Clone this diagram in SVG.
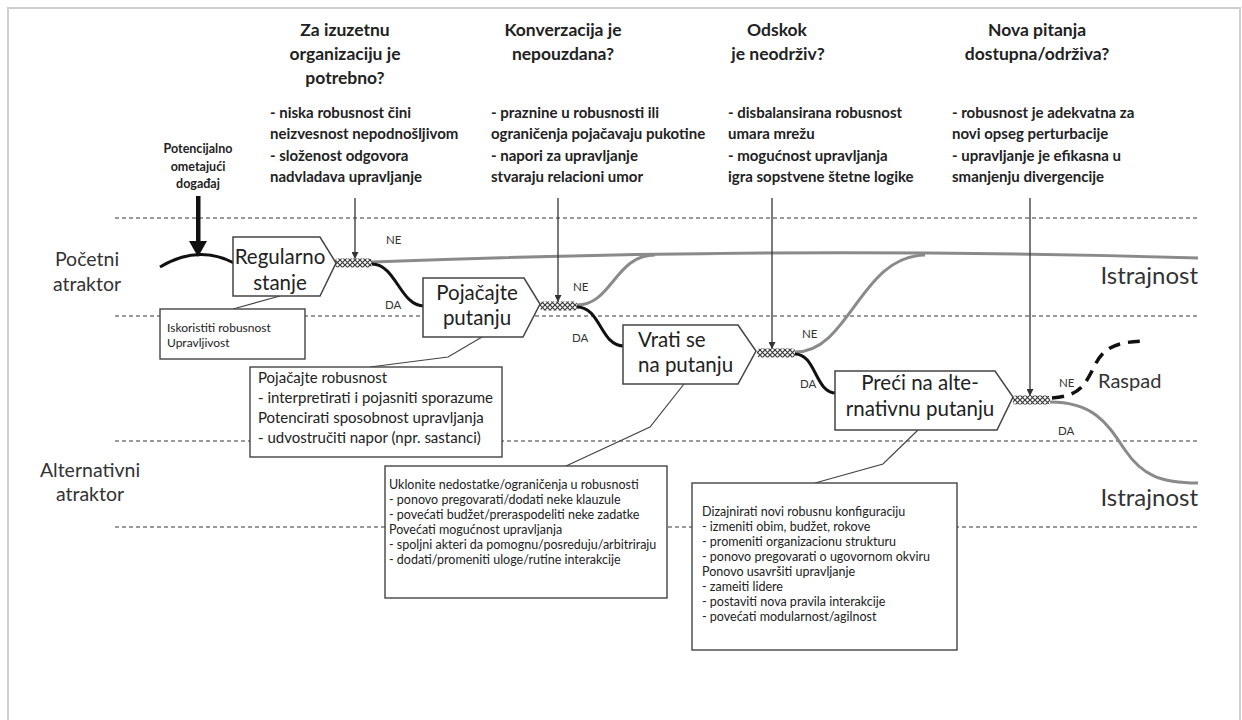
<svg xmlns="http://www.w3.org/2000/svg" width="1242" height="720" viewBox="0 0 1242 720">
  <defs>
    <style>
      text { font-family: Lato, "Liberation Sans", sans-serif; fill: #222; }
      .h { font-size: 17.5px; font-weight: bold; text-anchor: middle; }
      .b { font-size: 15px; font-weight: bold; }
      .ev { font-size: 12.5px; font-weight: bold; text-anchor: middle; }
      .side { font-size: 19.5px; text-anchor: middle; fill: #333; }
      .out { font-size: 24px; text-anchor: end; fill: #333; }
      .nt { font-size: 20.5px; fill: #222; }
      .ctr { text-anchor: middle; }
      .yn { font-size: 11.5px; fill: #333; }
      .c1 { font-size: 12px; }
      .c2 { font-size: 15px; }
      .c3 { font-size: 12.5px; }
      .band { stroke: #7a7a7a; stroke-width: 1.4; stroke-dasharray: 4 3; fill: none; }
      .node { fill: #fff; stroke: #444; stroke-width: 1.5; }
      .box { fill: #fff; stroke: #444; stroke-width: 1.4; }
      .lead { fill: none; stroke: #444; stroke-width: 1.2; }
      .yes { fill: none; stroke: #111; stroke-width: 3; }
      .no { fill: none; stroke: #8a8a8a; stroke-width: 3; }
      .drop { fill: none; stroke: #333; stroke-width: 1.3; marker-end: url(#tip); }
      .knot { fill: url(#weave); }
    </style>
    <pattern id="weave" width="5" height="5" patternUnits="userSpaceOnUse">
      <rect width="5" height="5" fill="#fff"/>
      <path d="M0,0 L5,5 M5,0 L0,5" stroke="#3a3a3a" stroke-width="1.2"/>
    </pattern>
    <marker id="tip" viewBox="0 0 10 10" refX="10" refY="5" markerWidth="7" markerHeight="7" markerUnits="userSpaceOnUse" orient="auto">
      <path d="M0,0 L10,5 L0,10 Z" fill="#333"/>
    </marker>
  </defs>

  <!-- page frame -->
  <rect x="8" y="8" width="1232" height="730" fill="#fff" stroke="#cfcfcf" stroke-width="2"/>

  <!-- attractor bands -->
  <g id="bands">
    <line class="band" x1="115" y1="218" x2="1198" y2="218"/>
    <line class="band" x1="115" y1="316" x2="1198" y2="316"/>
    <line class="band" x1="115" y1="441" x2="1198" y2="441"/>
    <line class="band" x1="115" y1="527" x2="1198" y2="527"/>
  </g>

  <g id="side-labels">
    <text class="side" x="87" y="266">Početni</text>
    <text class="side" x="87" y="291">atraktor</text>
    <text class="side" x="90" y="477">Alternativni</text>
    <text class="side" x="90" y="501">atraktor</text>
    <text class="out" x="1198" y="284">Istrajnost</text>
    <text class="out" x="1198" y="506">Istrajnost</text>
    <text x="1098" y="388" style="font-size:20px;fill:#333">Raspad</text>
  </g>

  <!-- questions at each decision point -->
  <g id="questions">
    <text class="h" x="345" y="36">Za izuzetnu</text>
    <text class="h" x="345" y="60">organizaciju je</text>
    <text class="h" x="345" y="84">potrebno?</text>
    <text class="h" x="563" y="36">Konverzacija je</text>
    <text class="h" x="563" y="60">nepouzdana?</text>
    <text class="h" x="777" y="36">Odskok</text>
    <text class="h" x="778" y="60">je neodrživ?</text>
    <text class="h" x="1037" y="36">Nova pitanja</text>
    <text class="h" x="1037" y="60">dostupna/održiva?</text>

    <text class="b" x="270" y="118">- niska robusnost čini</text>
    <text class="b" x="270" y="139">neizvesnost nepodnošljivom</text>
    <text class="b" x="270" y="161">- složenost odgovora</text>
    <text class="b" x="270" y="182">nadvladava upravljanje</text>

    <text class="b" x="491" y="118">- praznine u robusnosti ili</text>
    <text class="b" x="491" y="139">ograničenja pojačavaju pukotine</text>
    <text class="b" x="491" y="161">- napori za upravljanje</text>
    <text class="b" x="491" y="182">stvaraju relacioni umor</text>

    <text class="b" x="728" y="118">- disbalansirana robusnost</text>
    <text class="b" x="728" y="139">umara mrežu</text>
    <text class="b" x="728" y="161">- mogućnost upravljanja</text>
    <text class="b" x="728" y="182">igra sopstvene štetne logike</text>

    <text class="b" x="952" y="118">- robusnost je adekvatna za</text>
    <text class="b" x="952" y="139">novi opseg perturbacije</text>
    <text class="b" x="952" y="161">- upravljanje je efikasna u</text>
    <text class="b" x="952" y="182">smanjenju divergencije</text>
  </g>

  <g id="event">
    <text class="ev" x="198" y="153">Potencijalno</text>
    <text class="ev" x="198" y="171">ometajući</text>
    <text class="ev" x="198" y="188">događaj</text>
    <rect x="196" y="196" width="4.5" height="47" fill="#111"/>
    <path d="M189,241 L207,241 L198,257 Z" fill="#111"/>
  </g>

  <!-- trajectories and pointers -->
  <g id="connectors">
    <path class="yes" d="M160,267 Q198,244 234,263"/>
    <path class="no" d="M372,262 Q780,246 1198,258"/>
    <path class="yes" d="M372,264 C396,264 400,306 424,306"/>
    <path class="no" d="M577,305 C612,305 615,255 655,255"/>
    <path class="yes" d="M577,307 C601,307 600,346 624,346"/>
    <path class="no" d="M795,352 C850,352 860,256 925,255"/>
    <path class="yes" d="M795,354 C816,354 815,393 836,393"/>
    <path class="no" d="M1050,402 C1095,402 1108,425 1125,450 S1160,483 1198,483"/>
    <path d="M1052,398 C1080,396 1085,385 1095,365 S1120,342 1145,341" fill="none" stroke="#111" stroke-width="3.5" stroke-dasharray="12 8"/>

    <line class="drop" x1="355" y1="198" x2="355" y2="259"/>
    <line class="drop" x1="558" y1="198" x2="558" y2="302"/>
    <line class="drop" x1="772" y1="198" x2="772" y2="349"/>
    <line class="drop" x1="1030" y1="198" x2="1030" y2="396"/>

    <polyline class="lead" points="233,309 280,296"/>
    <polyline class="lead" points="370,367 448,357 482,337"/>
    <polyline class="lead" points="566,466 650,427 684,384"/>
    <polyline class="lead" points="815,483 883,464 918,430"/>

    <text class="yn" x="386" y="244">NE</text>
    <text class="yn" x="385" y="309">DA</text>
    <text class="yn" x="573" y="291">NE</text>
    <text class="yn" x="572" y="342">DA</text>
    <text class="yn" x="802" y="338">NE</text>
    <text class="yn" x="800" y="388">DA</text>
    <text class="yn" x="1059" y="387">NE</text>
    <text class="yn" x="1058" y="435">DA</text>
  </g>

  <!-- decision knots -->
  <g id="knots">
    <rect class="knot" x="335" y="258.5" width="37" height="9" rx="3"/>
    <rect class="knot" x="540" y="301.5" width="37" height="9" rx="3"/>
    <rect class="knot" x="757" y="348.5" width="38" height="9" rx="3"/>
    <rect class="knot" x="1013" y="395.5" width="37" height="9" rx="3"/>
  </g>

  <g id="node-regularno">
    <path class="node" d="M233,237 H320 L336,263 L320,296 H233 Z"/>
    <text class="nt ctr" x="280" y="264">Regularno</text>
    <text class="nt ctr" x="280" y="290">stanje</text>
  </g>
  <g id="node-pojacajte">
    <path class="node" d="M423,278 H524 L540,304 L523,337 H423 Z"/>
    <text class="nt ctr" x="477" y="300">Pojačajte</text>
    <text class="nt ctr" x="477" y="325">putanju</text>
  </g>
  <g id="node-vrati">
    <path class="node" d="M623,325 H738 L756,351 L738,384 H623 Z"/>
    <text class="nt" x="638" y="347">Vrati se</text>
    <text class="nt" x="638" y="372">na putanju</text>
  </g>
  <g id="node-preci">
    <path class="node" d="M835,371 H995 L1013,397 L997,430 H835 Z"/>
    <text class="nt ctr" x="920" y="390">Preći na alte-</text>
    <text class="nt ctr" x="920" y="416">rnativnu putanju</text>
  </g>

  <g id="note-iskoristiti">
    <rect class="box" x="160" y="309" width="145" height="50"/>
    <text class="c1" x="167" y="332">Iskoristiti robusnost</text>
    <text class="c1" x="167" y="347">Upravljivost</text>
  </g>
  <g id="note-pojacajte">
    <rect class="box" x="250" y="367" width="252" height="90"/>
    <text class="c2" x="258" y="383">Pojačajte robusnost</text>
    <text class="c2" x="258" y="403">- interpretirati i pojasniti sporazume</text>
    <text class="c2" x="258" y="423">Potencirati sposobnost upravljanja</text>
    <text class="c2" x="258" y="443">- udvostručiti napor (npr. sastanci)</text>
  </g>
  <g id="note-uklonite">
    <rect class="box" x="385" y="466" width="282" height="132"/>
    <text class="c3" x="389" y="489">Uklonite nedostatke/ograničenja u robusnosti</text>
    <text class="c3" x="389" y="504">- ponovo pregovarati/dodati neke klauzule</text>
    <text class="c3" x="389" y="519">- povećati budžet/preraspodeliti neke zadatke</text>
    <text class="c3" x="389" y="534">Povećati mogućnost upravljanja</text>
    <text class="c3" x="389" y="549">- spoljni akteri da pomognu/posreduju/arbitriraju</text>
    <text class="c3" x="389" y="564">- dodati/promeniti uloge/rutine interakcije</text>
  </g>
  <g id="note-dizajnirati">
    <rect class="box" x="692" y="483" width="265" height="167"/>
    <text class="c3" x="702" y="516">Dizajnirati novi robusnu konfiguraciju</text>
    <text class="c3" x="702" y="531">- izmeniti obim, budžet, rokove</text>
    <text class="c3" x="702" y="546">- promeniti organizacionu strukturu</text>
    <text class="c3" x="702" y="561">- ponovo pregovarati o ugovornom okviru</text>
    <text class="c3" x="702" y="576">Ponovo usavršiti upravljanje</text>
    <text class="c3" x="702" y="591">- zameiti lidere</text>
    <text class="c3" x="702" y="606">- postaviti nova pravila interakcije</text>
    <text class="c3" x="702" y="621">- povećati modularnost/agilnost</text>
  </g>
</svg>
